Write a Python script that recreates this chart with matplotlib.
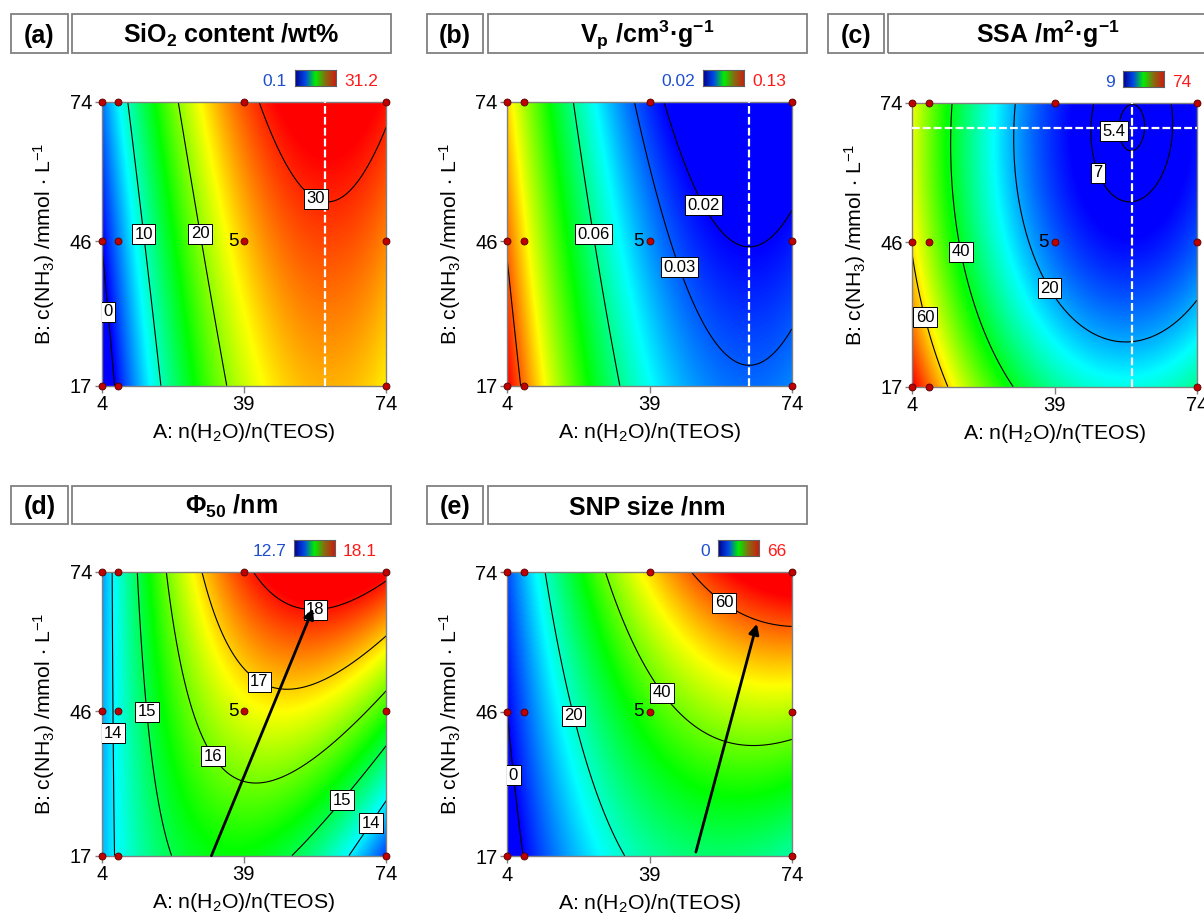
import numpy as np
import matplotlib
matplotlib.use("Agg")
import matplotlib.pyplot as plt
from matplotlib.colors import LinearSegmentedColormap
from matplotlib.patches import Rectangle

plt.rcParams['font.family'] = ['Liberation Sans', 'DejaVu Sans']
plt.rcParams['mathtext.fontset'] = 'custom'
plt.rcParams['mathtext.rm'] = 'Liberation Sans'
plt.rcParams['mathtext.it'] = 'Liberation Sans:italic'
plt.rcParams['mathtext.bf'] = 'Liberation Sans:bold'
plt.rcParams['mathtext.default'] = 'regular'

W, H = 1204, 914

# factors: A = n(H2O)/n(TEOS), B = c(NH3) /mmol L-1
A_ticks = [4, 39, 74]
B_ticks = [17, 46, 74]
design_A = [4, 8, 39, 74, 4, 8, 39, 74, 4, 8, 74]
design_B = [74, 74, 74, 74, 46, 46, 46, 46, 17, 17, 17]

# response models in coded units a=(A-39)/35, b=(B-45.5)/28.5
# terms: 1, a, b, ab, a^2, b^2, ab^2
sio2_coef = [25.0, 13.5, 3.45, 0.0, -11.5, 0.25, 0.0]
vp_coef = [0.0365, -0.0479, -0.012, 0.0, 0.0342, 0.0, 0.0]
ssa_coef = [15.45, -22.36, -10.07, -1.2, 21.5, 6.5, 0.0]
phi_coef = [16.6, 0.983, 1.2575, 1.327, -2.0, 0.0, 0.0]
snp_coef = [35.83, 22.12, 14.385, 9.735, -13.71, 1.305, 1.015]

# colour ranges (min, max of measured responses)
sio2_range = [0.1, 31.2]
vp_range = [0.02, 0.13]
ssa_range = [9, 74]
phi_range = [12.7, 18.1]
snp_range = [0, 66]
range_text = [["0.1", "31.2"], ["0.02", "0.13"], ["9", "74"], ["12.7", "18.1"], ["0", "66"]]

sio2_levels = [0, 10, 20, 30]
vp_levels = [0.02, 0.03, 0.06, 0.12]
vp_labelled = [0.02, 0.03, 0.06]
ssa_levels = [5.4, 7, 20, 40, 60]
phi_levels = [14, 15, 16, 17, 18]
snp_levels = [0, 20, 40, 60]

# optimum markers and trend arrows
sio2_opt_A = 59
vp_opt_A = 63.5
ssa_opt_A, ssa_opt_B = 58, 69
phi_arrow = [(31, 17), (56, 66.6)]
snp_arrow = [(50.4, 17.8), (65.4, 63.6)]

panel_tags = ["(a)", "(b)", "(c)", "(d)", "(e)"]
panel_titles = [r"SiO$_\mathbf{2}$ content /wt%",
                r"V$_\mathbf{p}$ /cm$^\mathbf{3}$·g$^\mathbf{-1}$",
                r"SSA /m$^\mathbf{2}$·g$^\mathbf{-1}$",
                r"Φ$_\mathbf{50}$ /nm",
                "SNP size /nm"]

surface_cmap = LinearSegmentedColormap.from_list(
    "surf", ["#0000ff", "#00ffff", "#00ff00", "#ffff00", "#ff0000"])
legend_cmap = LinearSegmentedColormap.from_list(
    "legend", ["#00008f", "#0048e8", "#00ee00", "#8a6a10", "#c81e10"])


def surface(coef, A, B):
    a = (A - 39) / 35
    b = (B - 45.5) / 28.5
    return (coef[0] + coef[1] * a + coef[2] * b + coef[3] * a * b
            + coef[4] * a ** 2 + coef[5] * b ** 2 + coef[6] * a * b ** 2)


fig = plt.figure(figsize=(W / 100, H / 100), dpi=100)


def px_axes(x0, y0, w, h):
    return fig.add_axes([x0 / W, 1 - (y0 + h) / H, w / W, h / H])


def px_box(x0, y0, x1, y1):
    fig.add_artist(Rectangle((x0 / W, 1 - y1 / H), (x1 - x0) / W, (y1 - y0) / H,
                             transform=fig.transFigure, fill=False,
                             ec="#808080", lw=1.3))


Ag = np.linspace(4, 74, 400)
Bg = np.linspace(17, 74, 400)
AA, BB = np.meshgrid(Ag, Bg)

panels = [
    dict(coef=sio2_coef, rng=sio2_range, levels=sio2_levels, labelled=sio2_levels,
         pos=(101.7, 101.7), bar_x=295,
         manual=[(5.5, 31.8), (14.1, 47.4), (27.8, 47.4), (56.3, 53.8)]),
    dict(coef=vp_coef, rng=vp_range, levels=vp_levels, labelled=vp_labelled,
         pos=(507.3, 101.7), bar_x=703,
         manual=[(53, 53.6), (46.8, 40.9), (25.4, 47.4)]),
    dict(coef=ssa_coef, rng=ssa_range, levels=ssa_levels, labelled=ssa_levels,
         pos=(912.3, 102.7), bar_x=1123,
         manual=[(55.5, 68.4), (50.4, 60.2), (38.9, 37.3), (16.2, 44.1), (7.6, 31)]),
    dict(coef=phi_coef, rng=phi_range, levels=phi_levels, labelled=phi_levels,
         pos=(101.7, 571.7), bar_x=294,
         manual=[(6.5, 41.6), (15.6, 45.9), (34.6, 38.7), (45, 54.9), (56.5, 69),
                 (61.8, 29), (69.6, 23.9)]),
    dict(coef=snp_coef, rng=snp_range, levels=snp_levels, labelled=snp_levels,
         pos=(507.3, 572), bar_x=718,
         manual=[(5.6, 33.2), (20.1, 45.1), (41.7, 49.5), (58.1, 68.7)]),
]

# header boxes (label box + title box) per panel, in pixels
header_cols = [(11, 68, 72, 391), (427, 483, 488, 807), (828, 884, 888, 1207)]
header_rows = [(14, 53), (486, 524)]

axes = []
for i, p in enumerate(panels):
    x0, y0 = p["pos"]
    ax = px_axes(x0, y0, 284.5, 284)
    axes.append(ax)
    Z = surface(p["coef"], AA, BB)
    ax.imshow(Z, extent=[4, 74, 17, 74], origin="lower", aspect="auto",
              cmap=surface_cmap, vmin=p["rng"][0], vmax=p["rng"][1],
              interpolation="bilinear", zorder=0)
    cs = ax.contour(AA, BB, Z, levels=p["levels"], colors="black",
                    linewidths=0.8, zorder=2)
    texts = ax.clabel(cs, p["labelled"], inline=False, fontsize=12,
                      fmt=lambda v: f"{v:g}", manual=p["manual"], zorder=4)
    for t in texts:
        t.set_rotation(0)
        t.set_bbox(dict(boxstyle="square,pad=0.15", fc="white", ec="black", lw=0.7))
        if t.get_text() == "5.4":
            # label sits beside the small ellipse around the minimum
            t.set_position((53.6, 68.3))

    ax.plot(design_A, design_B, "o", ms=5, mfc="#c00000", mec="#500000",
            mew=0.6, clip_on=False, zorder=6)
    ax.annotate("5", xy=(39, 46), xytext=(-4, 0), textcoords="offset points",
                ha="right", va="center", fontsize=13.5, zorder=6)

    ax.set_xlim(4, 74)
    ax.set_ylim(17, 74)
    ax.set_xticks(A_ticks)
    ax.set_yticks(B_ticks)
    ax.tick_params(direction="out", length=5, width=1, color="#808080",
                   labelsize=14.5, pad=2)
    for s in ax.spines.values():
        s.set_color("#808080")
        s.set_linewidth(1)
    ax.set_xlabel(r"A: n(H$_2$O)/n(TEOS)", fontsize=15.3, labelpad=5)
    ax.set_ylabel(r"B: c(NH$_3$) /mmol $\cdot$ L$^{-1}$", fontsize=15.3, labelpad=9)

    # small colour legend above the plot
    bx = p["bar_x"]
    by = y0 - 32
    cax = px_axes(bx, by, 41, 16)
    cax.imshow(np.linspace(0, 1, 100)[None, :], cmap=legend_cmap, aspect="auto")
    cax.set_xticks([])
    cax.set_yticks([])
    for s in cax.spines.values():
        s.set_color("#606060")
        s.set_linewidth(0.8)
    lo, hi = range_text[i]
    fig.text((bx - 8) / W, 1 - (by + 16) / H, lo, ha="right", va="baseline",
             fontsize=12.5, color="#1f4fd0")
    fig.text((bx + 49) / W, 1 - (by + 16) / H, hi, ha="left", va="baseline",
             fontsize=12.5, color="#ff1a1a")

    # header boxes
    c0, c1, c2, c3 = header_cols[i % 3]
    r0, r1 = header_rows[i // 3]
    px_box(c0, r0, c1, r1)
    px_box(c2, r0, c3, r1)
    base = 1 - ((r0 + r1) / 2 + 9.3) / H
    fig.text((c0 + c1) / 2 / W, base, panel_tags[i], ha="center", va="baseline",
             fontsize=18, fontweight="bold")
    fig.text((c2 + c3) / 2 / W, base, panel_titles[i], ha="center", va="baseline",
             fontsize=18, fontweight="bold")

dash = dict(color="white", lw=1.6, ls=(0, (3.5, 1.4)), zorder=3)
axes[0].axvline(sio2_opt_A, **dash)
axes[1].axvline(vp_opt_A, **dash)
axes[2].axvline(ssa_opt_A, **dash)
axes[2].axhline(ssa_opt_B, **dash)

for ax, arr in [(axes[3], phi_arrow), (axes[4], snp_arrow)]:
    ax.annotate("", xy=arr[1], xytext=arr[0],
                arrowprops=dict(arrowstyle="-|>", lw=2, color="black",
                                mutation_scale=15, shrinkA=0, shrinkB=0),
                zorder=5)

fig.savefig("out.png", dpi=100)
